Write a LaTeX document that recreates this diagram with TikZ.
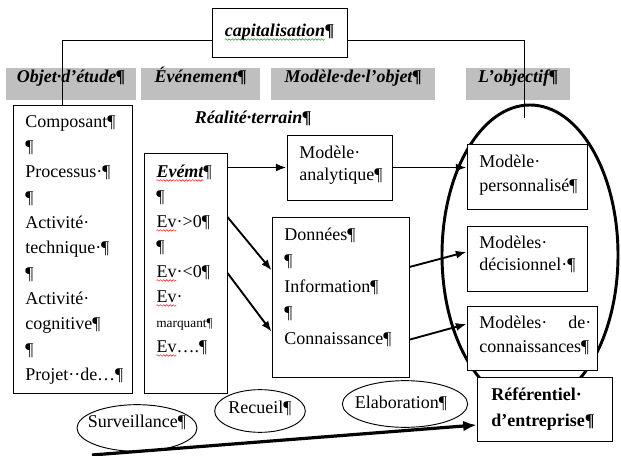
\documentclass[tikz,border=0pt]{standalone}
\usepackage{fontspec}
\setmainfont{Liberation Serif}
\usetikzlibrary{fit}
\usetikzlibrary{shapes.geometric}
\usetikzlibrary{arrows.meta}
\usetikzlibrary{decorations.pathmorphing}

% wavy spell-check underline
\newcommand\vague[2]{\tikz[baseline=(m.base)]{\node[anchor=base, inner sep=0pt, outer sep=0pt, align=left, text width=] (m) {#2};
    \draw[#1, line width=0.35pt, decorate, decoration={zigzag, amplitude=0.6pt, segment length=2.4pt}] ([yshift=-2pt]m.base west) -- ([yshift=-2pt]m.base east);}}

\begin{document}
\begin{tikzpicture}[x=0.75pt,y=0.75pt,yscale=-1,
    font=\fontsize{13.5}{19}\selectfont,
    boite/.style={draw, line width=0.7pt, inner sep=0pt},
    bandeau/.style={fill=black!25, inner sep=0pt, font=\fontsize{13.5}{16}\selectfont\bfseries\itshape},
    texte/.style={anchor=north west, inner sep=0pt, align=left},
    bulle/.style={draw, ellipse, line width=0.7pt, inner sep=0pt},
    fleche/.style={line width=1.4pt, -{Latex[length=8pt,width=6pt]}}]
    \useasboundingbox (0,0) rectangle (621,456); %picture 621 x 456

    %Shape: Title box
    \node[boite, fit={(212,8) (347,57)}] (capbox) {};
    \node[inner sep=0pt, font=\fontsize{13.5}{16}\selectfont\bfseries\itshape] (captxt) at (capbox.center) {\vague{green!60!black}{capitalisation}¶};

    %Shape: Grey headings
    \node[bandeau, fit={(6,68) (136,100)}] (objet) {Objet·d’étude¶};
    \node[bandeau, fit={(141,68) (260,100)}] (evenement) {Événement¶};
    \node[bandeau, fit={(271,68) (435,100)}] (modele) {Modèle·de·l’objet¶};
    \node[bandeau, fit={(466,68) (570,100)}] (objectif) {L’objectif¶};

    % Text Node
    \node[inner sep=0pt, font=\fontsize{13.5}{16}\selectfont\bfseries\itshape] (realite) at (253,118) {Réalité·terrain¶};

    %Shape: Big ellipse
    \draw[line width=2.2pt] (530,255) ellipse [x radius=88, y radius=150];

    %Straight Lines from the title (yshift is flipped by yscale=-1)
    \coordinate (piedgauche) at (62,105);
    \coordinate (piedroit) at (524,118);
    \draw[line width=0.7pt] ([yshift=6pt]capbox.west) -| (piedgauche);
    \draw[line width=0.7pt] ([yshift=6pt]capbox.east) -| (piedroit);

    %Shape: Objet box
    \node[boite, fit={(13,105) (132,393)}] (objbox) {};
    \node[texte, font=\fontsize{13.5}{19}\selectfont] (objtxt) at (25,115) {Composant¶\\¶\\Processus·¶\\¶\\Activité·\\technique·¶\\¶\\Activité·\\cognitive¶\\¶\\Projet··de…¶};

    %Shape: Evenement box
    \node[boite, fit={(144,153) (227,393)}] (evbox) {};
    \node[texte, font=\fontsize{13.5}{18.75}\selectfont] (evtxt) at (156,165) {\textbf{\textit{\vague{red}{Evémt}}}¶\\¶\\\vague{red}{Ev}·>0¶\\¶\\\vague{red}{Ev}·<0¶\\\vague{red}{Ev}·\\{\fontsize{10}{18.75}\selectfont marquant¶}\\\vague{red}{Ev}….¶};

    %Shape: Modele analytique
    \node[boite, fit={(287,135) (392,200)}] (analyt) {};
    \node[texte, font=\fontsize{13.5}{16.5}\selectfont] (analyttxt) at (299,146) {Modèle·\\analytique¶};

    %Shape: Donnees box
    \node[boite, fit={(272,217) (409,377)}] (donbox) {};
    \node[texte, font=\fontsize{13.5}{19.5}\selectfont] (dontxt) at (284,228) {Données¶\\¶\\Information¶\\¶\\Connaissance¶};

    %Shape: Objectif boxes
    \node[boite, fill=white, fit={(467,144) (587,209)}] (perso) {};
    \node[texte, font=\fontsize{13.5}{18}\selectfont] (persotxt) at (479,155) {Modèle·\\personnalisé¶};
    \node[boite, fill=white, fit={(467,226) (587,291)}] (decis) {};
    \node[texte, font=\fontsize{13.5}{16.5}\selectfont] (decistxt) at (479,236) {Modèles·\\décisionnel·¶};
    \node[boite, fill=white, fit={(467,306) (597,370)}] (connais) {};
    \node[texte, text width=84pt, font=\fontsize{13.5}{18}\selectfont] (connaistxt) at (479,316) {Modèles·\hfill de·\\connaissances¶};
    \node[boite, fill=white, fit={(477,377) (612,441)}] (referent) {};
    \node[texte, font=\fontsize{13.5}{19}\selectfont\bfseries] (referenttxt) at (491,388) {Référentiel·\\d’entreprise¶};

    %Shape: small ellipses
    \node[bulle, minimum width=90pt, minimum height=35pt] (surv) at (137,428) {};
    \node[inner sep=0pt] (survtxt) at (137,422) {Surveillance¶};
    \node[bulle, minimum width=68pt, minimum height=32pt] (recueil) at (260,411) {};
    \node[inner sep=0pt] (recueiltxt) at (260,408) {Recueil¶};
    \node[bulle, minimum width=94pt, minimum height=35pt] (elabo) at (405,404) {};
    \node[inner sep=0pt] (elabotxt) at (401,403) {Elaboration¶};

    %Arrows
    \draw[fleche] (evbox.east |- analyt.west) -- (analyt.west);
    \draw[fleche] ([yshift=-42pt]evbox.east) -- ([yshift=-20pt]donbox.west);
    \draw[fleche] (evbox.east) -- ([yshift=26pt]donbox.west);
    \draw[fleche] (analyt.east) -- (analyt.east -| perso.west);
    \draw[fleche] ([yshift=-22.5pt]donbox.east) -- ([yshift=-5pt]decis.west);
    \draw[fleche] ([yshift=32pt]donbox.east) -- ([yshift=-10.5pt]connais.west);
    \coordinate (depart) at (92,455);
    \draw[line width=2.4pt, -{Latex[length=10pt,width=8pt]}] (depart) -- ([yshift=12pt]referent.west);
\end{tikzpicture}
\end{document}
